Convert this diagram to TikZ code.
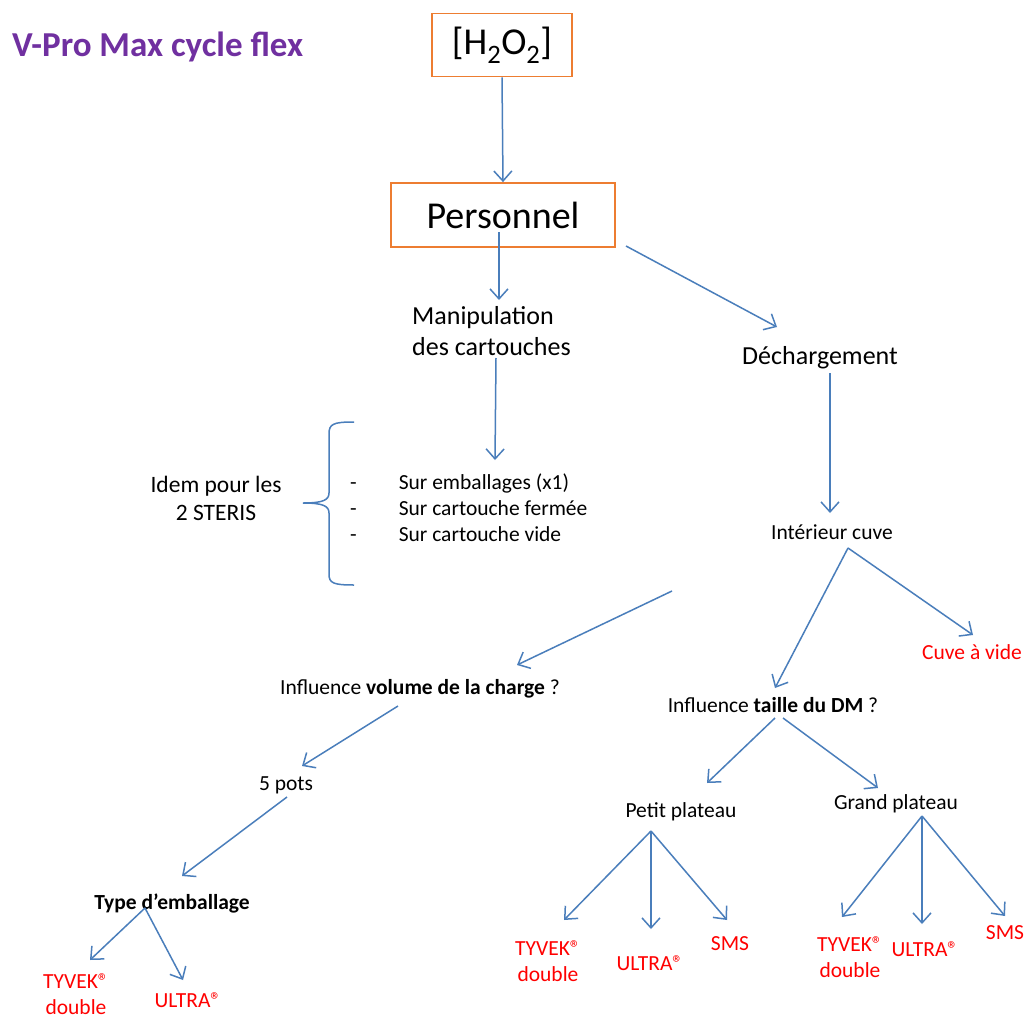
\documentclass[tikz,border=0pt]{standalone}
\usepackage{fontspec}
\setmainfont{Carlito}
\usepackage{tikz}
\usetikzlibrary{arrows.meta, calc}

\definecolor{arrblue}{RGB}{74,126,187}
\definecolor{boxorange}{RGB}{237,125,49}
\definecolor{titlepurple}{RGB}{112,48,160}
\definecolor{lblred}{RGB}{255,0,0}

\begin{document}
\begin{tikzpicture}[
        x=1pt, y=-1pt,
        box/.style={draw=boxorange, line width=1.8pt, inner sep=0pt},
        txt/.style={font=\fontsize{21.5}{26}\selectfont, inner sep=0pt},
        big/.style={font=\fontsize{26}{31}\selectfont, inner sep=0pt},
        lbl/.style={txt, text=lblred, align=center},
        arr/.style={-{Straight Barb[length=10pt,width=18pt]}, draw=arrblue, line width=1.5pt}
    ]
    \path[use as bounding box, fill=white] (0,0) rectangle (1026,1020);
    % Title and boxes
    \node[anchor=west, inner sep=0pt, text=titlepurple,
          font=\fontsize{35}{41}\selectfont\bfseries] (title) at (12,47) {V-Pro Max cycle flex};
    \node[box, minimum width=140pt, minimum height=63pt,
          font=\fontsize{38}{44}\selectfont] (h2o2) at (502,45) {[H\textsubscript{2}O\textsubscript{2}]};
    \node[box, minimum width=224pt, minimum height=64pt,
          font=\fontsize{38}{44}\selectfont] (pers) at (503,215) {Personnel};
    % Second level
    \node[big, anchor=west, align=left] (manip) at (412,331) {Manipulation\\des cartouches};
    \node[big] (dech) at (820,358) {Déchargement};
    \node[txt, align=center, font=\fontsize{23.5}{28}\selectfont] (idem) at (216,498) {Idem pour les\\2 STERIS};
    \node[txt, anchor=west, align=left] (list) at (350,508)
        {-\hspace{42pt}Sur emballages (x1)\\-\hspace{42pt}Sur cartouche fermée\\-\hspace{42pt}Sur cartouche vide};
    \node[txt] (intr) at (832,532) {Intérieur cuve};
    \node[lbl] (cuve) at (972,652) {Cuve à vide};
    % Influence nodes
    \node[txt] (vol) at (420,689) {Influence \textbf{volume de la charge} ?};
    \node[txt] (dm) at (773,705) {Influence \textbf{taille du DM} ?};
    \node[txt] (pots) at (286,785) {5 pots};
    \node[txt, font=\fontsize{21.5}{26}\selectfont\bfseries] (type) at (172,903) {Type d’emballage};
    \node[txt] (petit) at (681,812) {Petit plateau};
    \node[txt] (grand) at (896,804) {Grand plateau};
    % Red leaves
    \node[lbl] (tyL) at (76,994) {TYVEK®\\double};
    \node[lbl] (ulL) at (188,1000) {ULTRA®};
    \node[lbl] (tyP) at (548,961) {TYVEK®\\double};
    \node[lbl] (ulP) at (650,963) {ULTRA®};
    \node[lbl] (smP) at (730,944) {SMS};
    \node[lbl] (tyG) at (850,957) {TYVEK®\\double};
    \node[lbl] (ulG) at (925,949) {ULTRA®};
    \node[lbl] (smG) at (1005,933) {SMS};
    \coordinate (loose) at (672,591);
    % Brace
    \draw[arrblue, line width=1.5pt]
        (354,422) .. controls (333,422) and (329,424) .. (329,434) -- (329,493)
        .. controls (329,500) and (323,503) .. (303,503)
        .. controls (323,503) and (329,506) .. (329,513) -- (329,574)
        .. controls (329,583) and (333,585) .. (354,585);
    % Arrows
    \draw[arr] (h2o2.south) -- (pers.north);
    \draw[arr] ($(pers)+(-4,17)$) -- ($(manip.west)+(87,-31)$);
    \draw[arr] ($(pers)+(123,31)$) -- ($(dech)+(-43,-31)$);
    \draw[arr] ($(manip.west)+(84,27)$) -- ($(list.west)+(145,-48)$);
    \draw[arr] ($(dech)+(10,15)$) -- ($(intr)+(-2,-19)$);
    \draw[arr] ($(intr)+(16,16)$) -- ($(dm)+(2,-17)$);
    \draw[arr] ($(intr)+(16,16)$) -- ($(cuve)+(1,-17)$);
    \draw[arr] (loose) -- ($(vol)+(97,-24)$);
    \draw[arr] ($(vol)+(-22,17)$) -- ($(pots)+(16,-19)$);
    \draw[arr] ($(pots)+(1,12)$) -- ($(type)+(10,-27)$);
    \draw[arr] ($(type)+(-27,5)$) -- ($(tyL)+(14,-34)$);
    \draw[arr] ($(type)+(-27,5)$) -- ($(ulL)+(-5,-20)$);
    \draw[arr] ($(dm)+(2,13)$) -- ($(petit)+(26,-29)$);
    \draw[arr] ($(dm)+(10,13)$) -- ($(grand)+(-18,-16)$);
    \foreach \n/\dx/\dy in {tyP/16/-41, ulP/1/-34, smP/-3/-24}
        \draw[arr] ($(petit)+(-30,19)$) -- ($(\n)+(\dx,\dy)$);
    \foreach \n/\dx/\dy in {tyG/-8/-40, ulG/-3/-25, smG/0/-17}
        \draw[arr] ($(grand)+(26,12)$) -- ($(\n)+(\dx,\dy)$);
\end{tikzpicture}
\end{document}
